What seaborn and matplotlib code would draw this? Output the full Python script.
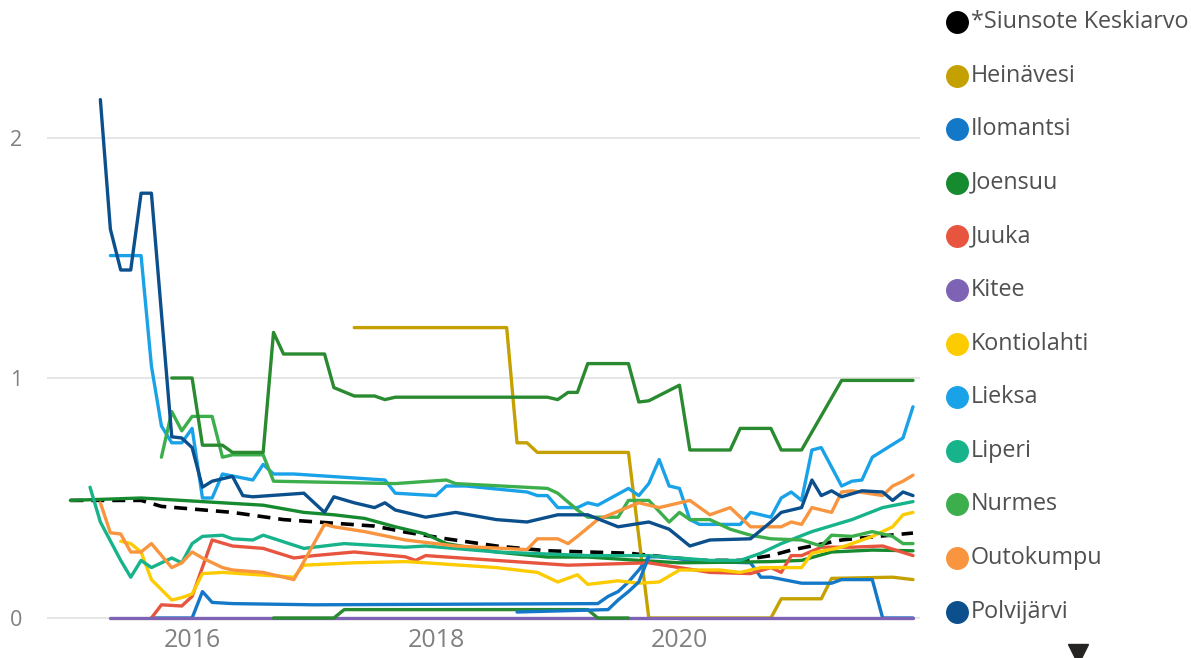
import pandas as pd
import matplotlib
matplotlib.use("Agg")
import matplotlib.pyplot as plt
import matplotlib.dates as mdates
from matplotlib.lines import Line2D
import seaborn as sns

# months counted from Jan 2015 (0 = 2015-01)
siunsote_m = [0, 7, 9, 16, 21, 26, 30, 33, 37, 42, 47, 51, 55, 62, 66, 69, 71, 76, 79, 83]
siunsote_v = [0.49, 0.49, 0.465, 0.44, 0.41, 0.395, 0.383, 0.358, 0.33, 0.30, 0.28, 0.275,
              0.27, 0.24, 0.24, 0.26, 0.283, 0.325, 0.338, 0.354]

heinavesi_m = [28, 43, 44, 45, 46, 55, 57, 69, 70, 74, 75, 81, 83]
heinavesi_v = [1.21, 1.21, 0.73, 0.73, 0.69, 0.69, 0.0, 0.0, 0.08, 0.08, 0.165, 0.17, 0.16]

ilomantsi_m = [8, 12, 13, 14, 16, 24, 52, 53, 54, 55, 56, 57, 58, 63, 67, 68, 69, 72, 75, 76, 79, 80, 83]
ilomantsi_v = [0.0, 0.0, 0.11, 0.065, 0.06, 0.055, 0.06, 0.09, 0.11, 0.15, 0.20, 0.255, 0.255,
               0.235, 0.23, 0.17, 0.17, 0.145, 0.145, 0.16, 0.16, 0.0, 0.0]

joensuu_m = [0, 7, 19, 23, 26, 29, 32, 35, 37, 42, 47, 51, 56, 60, 66, 69, 72, 75, 79, 83]
joensuu_v = [0.49, 0.50, 0.47, 0.44, 0.43, 0.415, 0.38, 0.35, 0.31, 0.275, 0.254, 0.254, 0.24,
             0.23, 0.233, 0.235, 0.24, 0.275, 0.283, 0.28]

juuka_m = [8, 9, 11, 12, 14, 16, 19, 22, 24, 28, 33, 34, 35, 42, 49, 57, 63, 67, 69, 70, 71, 72, 74, 77, 80, 83]
juuka_v = [0.0, 0.055, 0.05, 0.09, 0.325, 0.30, 0.29, 0.25, 0.26, 0.275, 0.255, 0.24, 0.26, 0.24,
           0.22, 0.23, 0.19, 0.185, 0.21, 0.19, 0.26, 0.26, 0.295, 0.295, 0.30, 0.26]

kitee_m = [4, 83]
kitee_v = [0.0, 0.0]

kontiolahti_m = [5, 6, 7, 8, 10, 11, 12, 13, 15, 22, 23, 28, 33, 35, 42, 46, 48, 50, 51, 54, 56, 58,
                 60, 64, 66, 68, 72, 73, 76, 79, 81, 82, 83]
kontiolahti_v = [0.32, 0.31, 0.275, 0.16, 0.075, 0.085, 0.10, 0.185, 0.19, 0.17, 0.22, 0.23, 0.235,
                 0.23, 0.21, 0.19, 0.15, 0.18, 0.14, 0.155, 0.145, 0.15, 0.20, 0.20, 0.19, 0.21,
                 0.21, 0.27, 0.295, 0.34, 0.38, 0.43, 0.44]

lieksa_m = [4, 7, 8, 9, 10, 11, 12, 13, 14, 15, 18, 19, 20, 22, 31, 32, 36, 37, 39, 45, 46, 47, 48,
            50, 51, 52, 55, 56, 57, 58, 59, 60, 61, 62, 66, 67, 68, 69, 70, 71, 72, 73, 74, 76,
            77, 78, 79, 82, 83]
lieksa_v = [1.51, 1.51, 1.05, 0.80, 0.73, 0.73, 0.79, 0.50, 0.50, 0.60, 0.575, 0.64, 0.60, 0.60,
            0.575, 0.52, 0.51, 0.55, 0.55, 0.525, 0.51, 0.51, 0.46, 0.46, 0.48, 0.47, 0.54, 0.51,
            0.56, 0.66, 0.55, 0.54, 0.41, 0.39, 0.39, 0.44, 0.43, 0.42, 0.50, 0.525, 0.49, 0.70,
            0.71, 0.55, 0.57, 0.575, 0.67, 0.75, 0.88]

liperi_m = [2, 3, 5, 6, 7, 8, 10, 11, 12, 13, 15, 16, 18, 19, 23, 27, 33, 35, 42, 51, 57, 63, 66,
            68, 70, 73, 77, 80, 83]
liperi_v = [0.545, 0.40, 0.24, 0.17, 0.24, 0.21, 0.25, 0.23, 0.31, 0.34, 0.345, 0.33, 0.325, 0.345,
            0.29, 0.31, 0.295, 0.30, 0.275, 0.26, 0.26, 0.24, 0.24, 0.27, 0.31, 0.36, 0.41, 0.46,
            0.485]

nurmes_m = [9, 10, 11, 12, 14, 15, 16, 19, 20, 32, 37, 38, 47, 48, 50, 51, 54, 55, 57, 59, 60, 61,
            63, 65, 67, 69, 72, 74, 75, 77, 79, 81, 82, 83]
nurmes_v = [0.67, 0.86, 0.78, 0.84, 0.84, 0.67, 0.68, 0.68, 0.57, 0.56, 0.575, 0.56, 0.54, 0.52,
            0.45, 0.42, 0.42, 0.49, 0.49, 0.40, 0.44, 0.41, 0.41, 0.37, 0.345, 0.33, 0.325, 0.30,
            0.345, 0.34, 0.36, 0.34, 0.31, 0.31]

outokumpu_m = [3, 4, 5, 6, 7, 8, 10, 11, 12, 13, 15, 16, 19, 22, 25, 26, 29, 33, 38, 45, 46, 48,
               49, 50, 52, 56, 58, 61, 63, 65, 67, 70, 71, 72, 73, 75, 76, 77, 80, 81, 82, 83]
outokumpu_v = [0.48, 0.355, 0.35, 0.275, 0.275, 0.31, 0.21, 0.23, 0.275, 0.25, 0.21, 0.20, 0.19,
               0.16, 0.39, 0.38, 0.36, 0.325, 0.30, 0.285, 0.33, 0.33, 0.31, 0.34, 0.41, 0.48,
               0.46, 0.49, 0.43, 0.46, 0.38, 0.38, 0.40, 0.39, 0.46, 0.44, 0.525, 0.53, 0.51,
               0.55, 0.57, 0.595]

polvijarvi_m = [3, 4, 5, 6, 7, 8, 10, 11, 12, 13, 14, 16, 17, 18, 23, 25, 26, 28, 30, 31, 32, 35,
                38, 42, 45, 48, 51, 54, 57, 59, 61, 63, 67, 69, 70, 72, 73, 74, 75, 76, 78, 80,
                81, 82, 83]
polvijarvi_v = [2.16, 1.62, 1.45, 1.45, 1.77, 1.77, 0.755, 0.75, 0.71, 0.545, 0.57, 0.59, 0.51,
                0.505, 0.52, 0.44, 0.505, 0.48, 0.46, 0.48, 0.45, 0.42, 0.44, 0.41, 0.40, 0.43,
                0.43, 0.38, 0.40, 0.37, 0.30, 0.325, 0.33, 0.40, 0.44, 0.46, 0.575, 0.51, 0.53,
                0.505, 0.53, 0.525, 0.49, 0.525, 0.51]

# series further down the (scrolled) legend
raakkyla_m = [10, 12, 13, 15, 16, 19, 20, 21, 25, 26, 28, 30, 31, 32, 47, 48, 49, 50, 51, 55, 56,
              57, 60, 61, 65, 66, 69, 70, 72, 76, 83]
raakkyla_v = [1.0, 1.0, 0.72, 0.72, 0.69, 0.69, 1.19, 1.10, 1.10, 0.96, 0.925, 0.925, 0.91, 0.92,
              0.92, 0.91, 0.94, 0.94, 1.06, 1.06, 0.90, 0.905, 0.97, 0.70, 0.70, 0.79, 0.79,
              0.70, 0.70, 0.99, 0.99]
tohmajarvi_m = [20, 26, 27, 51, 52, 55]
tohmajarvi_v = [0.0, 0.0, 0.035, 0.035, 0.0, 0.0]
muu_m = [44, 53, 54, 55, 56, 57]
muu_v = [0.025, 0.035, 0.075, 0.11, 0.15, 0.255]

names = ["*Siunsote Keskiarvo", "Heinävesi", "Ilomantsi", "Joensuu", "Juuka", "Kitee",
         "Kontiolahti", "Lieksa", "Liperi", "Nurmes", "Outokumpu", "Polvijärvi"]
colors = ["#000000", "#C4A100", "#1478C8", "#168A2E", "#E8553F", "#7E62B4",
          "#FCCB00", "#19A2E8", "#17B38B", "#3CAE4B", "#F8953E", "#0B4F8C"]
months = [siunsote_m, heinavesi_m, ilomantsi_m, joensuu_m, juuka_m, kitee_m, kontiolahti_m,
          lieksa_m, liperi_m, nurmes_m, outokumpu_m, polvijarvi_m]
values = [siunsote_v, heinavesi_v, ilomantsi_v, joensuu_v, juuka_v, kitee_v, kontiolahti_v,
          lieksa_v, liperi_v, nurmes_v, outokumpu_v, polvijarvi_v]
extra = [(raakkyla_m, raakkyla_v, "#2A8A30"), (tohmajarvi_m, tohmajarvi_v, "#2A8A30"),
         (muu_m, muu_v, "#1478C8")]


def to_dates(ms):
    return [(pd.Period("2015-01", "M") + m).to_timestamp() for m in ms]


sns.set_theme(style="white")
plt.rcParams["font.family"] = ["Open Sans", "DejaVu Sans"]

W, H = 1191, 658
fig = plt.figure(figsize=(W / 100, H / 100), dpi=100)
ax = fig.add_axes([47 / W, (H - 622.8) / H, 873 / W, (622.8 - 54) / H])

for name, m, v, c in zip(names, months, values, colors):
    sns.lineplot(x=to_dates(m), y=v, color=c, lw=2.4, ax=ax, estimator=None)
    if name.startswith("*"):
        ax.lines[-1].set_linewidth(2.6)
        ax.lines[-1].set_dashes([3.6, 2.2])
for m, v, c in extra:
    sns.lineplot(x=to_dates(m), y=v, color=c, lw=2.4, ax=ax, estimator=None)

ax.set_xlim(pd.Timestamp("2014-10-23"), pd.Timestamp("2021-12-22"))
ax.set_ylim(-0.02, 2.35)
ax.set_yticks([0, 1, 2])
ax.xaxis.set_major_locator(mdates.YearLocator(2))
ax.xaxis.set_major_formatter(mdates.DateFormatter("%Y"))
ax.grid(axis="y", color="#E4E4E4", lw=1.3)
ax.set_axisbelow(True)
ax.tick_params(axis="y", length=0, pad=22, labelsize=15.5, labelcolor="#808080")
ax.tick_params(axis="x", length=0, pad=4, labelsize=18, labelcolor="#808080")
for t in ax.get_yticklabels():
    t.set_horizontalalignment("center")
ax.set_xlabel("")
ax.set_ylabel("")
sns.despine(ax=ax, left=True, bottom=True)

# legend on the right, one row every ~53.6 px
for i, (name, c) in enumerate(zip(names, colors)):
    yp = 1 - (22 + 53.6 * i) / H
    fig.add_artist(Line2D([957 / W], [yp], marker="o", markersize=15.5, color=c,
                          linestyle="", transform=fig.transFigure))
    fig.text(971 / W, yp, name, fontsize=16.8, color="#505050", va="center", ha="left")
fig.add_artist(Line2D([1078 / W], [1 - 654 / H], marker="v", markersize=15, color="#252423",
                      linestyle="", transform=fig.transFigure))

fig.savefig("out.png", dpi=100)
